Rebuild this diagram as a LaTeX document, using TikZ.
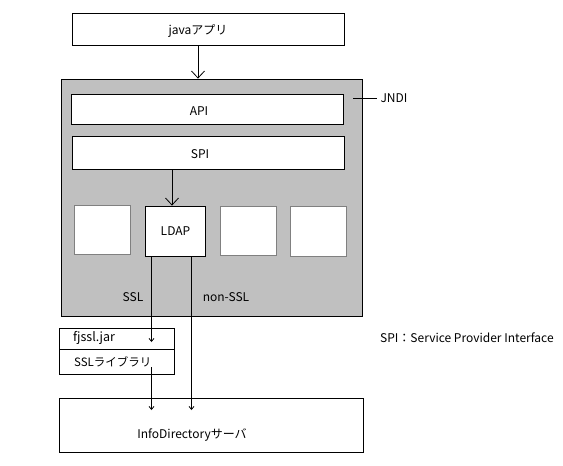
\documentclass[tikz,border=0pt]{standalone}
\usepackage{fontspec}
\setmainfont{Noto Sans CJK JP}
\usetikzlibrary{arrows.meta}
\definecolor{jndigray}{HTML}{C0C0C0}
\definecolor{boxgray}{HTML}{808080}

\begin{document}
\begin{tikzpicture}[x=1pt,y=-1pt,
    box/.style={shape=rectangle,draw=black,fill=white,line width=0.8pt,inner sep=0pt},
    sbox/.style={box,draw=boxgray,minimum width=56pt,minimum height=49pt},
    arr/.style={-{Straight Barb[length=7pt,width=13pt]},line width=0.8pt},
    sarr/.style={-{Straight Barb[length=3pt,width=5pt]},line width=0.8pt},
    every node/.style={font=\fontsize{12}{14}\selectfont}]
    \useasboundingbox (0,0) rectangle (563,466);
    % boxes
    \node[box,minimum width=272pt,minimum height=32pt] (J) at (208,29.5) {};
    \node[box,fill=jndigray,minimum width=301pt,minimum height=237pt] (N) at (211.5,197.5) {};
    \node[box,minimum width=272pt,minimum height=30pt] (API) at (207,109) {};
    \node[box,minimum width=272pt,minimum height=33pt] (SPI) at (208,152.5) {};
    \node[sbox] (B1) at (102,229.7) {};
    \node[box,minimum width=60pt,minimum height=50pt] (LDAP) at (175.5,231) {LDAP};
    \node[sbox] (B3) at (248,230.7) {};
    \node[sbox,minimum height=50pt] (B4) at (318,231) {};
    \node[box,minimum width=115pt,minimum height=46pt] (F) at (117,351.3) {};
    \draw[line width=0.8pt] ([yshift=2pt]F.west) -- ([yshift=2pt]F.east);
    \node[box,minimum width=304pt,minimum height=54pt] (I) at (211.3,425.5) {};
    % texts
    \node (Jt) at (198,31) {javaアプリ};
    \node (APIt) at (199,111) {API};
    \node (SPIt) at (200,154) {SPI};
    \node[anchor=west] (JNDI) at (377,98) {JNDI};
    \node (SSL) at (133,297) {SSL};
    \node (NSSL) at (226,297) {non-SSL};
    \node[anchor=west,inner sep=0pt,font=\fontsize{12.5}{14}\selectfont] (Ft) at (73,338) {fjssl.jar};
    \node[anchor=west,inner sep=0pt,font=\fontsize{11.5}{14}\selectfont] (Lt) at (74,362) {SSLライブラリ};
    \node (It) at (192,435) {InfoDirectoryサーバ};
    \node[anchor=west,inner sep=0pt] (Note) at (380,338) {SPI：Service Provider Interface};
    % connectors
    \coordinate (Jl) at (353,98);
    \coordinate (S1) at (151.5,342);
    \coordinate (S2) at (151.5,367);
    \coordinate (S3) at (151.5,410);
    \coordinate (N1) at (191.5,410);
    \draw[line width=0.8pt] (Jl) -- (JNDI.west);
    \path [arr] ([xshift=-10pt]J.south) edge ([xshift=-13.5pt]N.north);
    \path [arr] ([xshift=-36pt]SPI.south) edge ([xshift=-3.5pt]LDAP.north);
    \path [sarr] ([xshift=-24pt]LDAP.south) edge (S1);
    \path [sarr] (S2) edge (S3);
    \path [sarr] ([xshift=16pt]LDAP.south) edge (N1);
\end{tikzpicture}
\end{document}
